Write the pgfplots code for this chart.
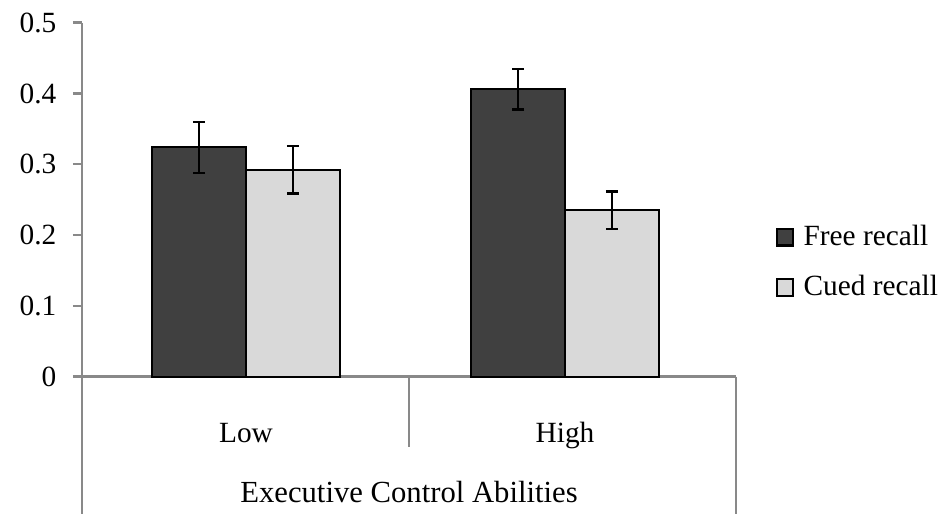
\documentclass[border=0pt]{standalone}
\usepackage{fontspec}
\setmainfont{Liberation Serif}
\usepackage{pgfplots}
\pgfplotsset{compat=1.18}
\usepackage{pgfplotstable}

\definecolor{darkbar}{HTML}{404040}
\definecolor{lightbar}{HTML}{D9D9D9}
\definecolor{axisgray}{HTML}{898989}

\pgfplotsset{
  sqlegend/.style={legend image code/.code={%
    \draw[##1, line width=1.6pt] (0pt,-6.2pt) rectangle (12.4pt,6.2pt);}},
  errstyle/.style={error bars/.cd, y dir=both, y explicit,
    error bar style={black, line width=1.8pt},
    error mark options={black, rotate=90, mark size=4.5pt, line width=1.8pt}},
}

% x: category centre, y: mean, e: error
\pgfplotstableread{
x    y      e
0.5  0.324  0.036
1.5  0.406  0.0285
}\freerecall
\pgfplotstableread{
x    y      e
0.5  0.292  0.0335
1.5  0.235  0.0265
}\cuedrecall

\begin{document}
\fontsize{22}{26}\selectfont
\begin{tikzpicture}
\useasboundingbox (-61.5pt,-103pt) rectangle (648.75pt,282.5pt);
\begin{axis}[
  scale only axis,
  width=490.5pt, height=265.5pt,
  xmin=-0.014, xmax=2.036,
  ymin=0, ymax=0.5,
  axis lines*=left,
  axis line style={axisgray, line width=1.8pt},
  clip=false,
  ybar, bar width=0.295,
  xtick={0.5,1.5},
  xticklabels={Low,High},
  xtick style={draw=none},
  xticklabel style={anchor=base, yshift=-42.4pt},
  ytick={0,0.1,...,0.5},
  yticklabel style={xshift=-5pt, /pgf/number format/fixed},
  tick align=outside,
  ytick style={axisgray, line width=1.8pt},
  major tick length=6.75pt,
  /pgf/number format/assume math mode=true,
  xlabel={Executive Control Abilities},
  xlabel style={at={(rel axis cs:0.5,0)}, anchor=base, yshift=-94pt,
    font=\fontsize{23}{27}\selectfont},
  legend style={draw=none, fill=none, at={(rel axis cs:1,0.323)}, anchor=west,
    xshift=29.5pt, row sep=15pt, column sep=5pt, inner sep=0pt},
  legend cell align=left,
]
\addplot[fill=darkbar, draw=black, line width=1.6pt, bar shift=-0.147,
  sqlegend, errstyle]
  table[x=x, y=y, y error=e] {\freerecall};
\addlegendentry{Free recall}
\addplot[fill=lightbar, draw=black, line width=1.6pt, bar shift=0.147,
  sqlegend, errstyle]
  table[x=x, y=y, y error=e] {\cuedrecall};
\addlegendentry{Cued recall}
% category frame lines below the axis
\draw[axisgray, line width=1.8pt] (rel axis cs:0,0) -- ++(0pt,-103pt);
\draw[axisgray, line width=1.8pt] (rel axis cs:1,0) -- ++(0pt,-103pt);
\draw[axisgray, line width=1.8pt] (rel axis cs:0.5,0) -- ++(0pt,-52.5pt);
\end{axis}
\end{tikzpicture}
\end{document}
